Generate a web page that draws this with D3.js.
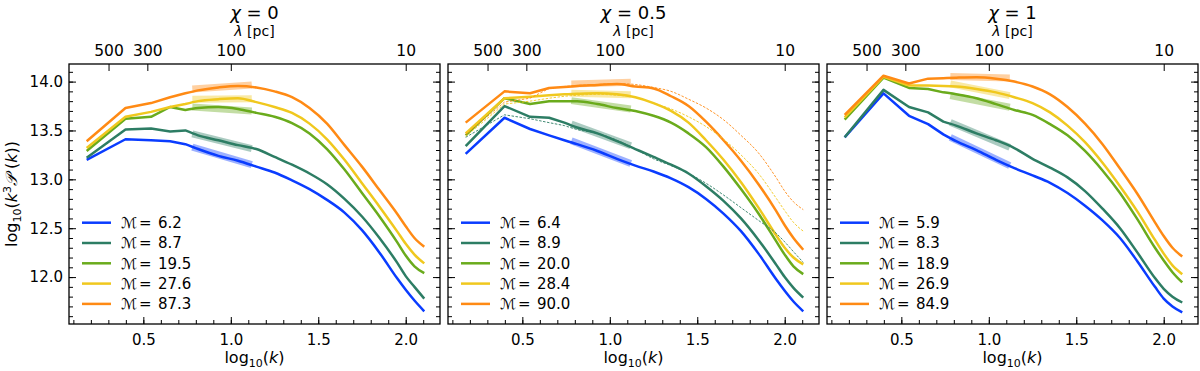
<!DOCTYPE html>
<html>
<head>
<meta charset="utf-8">
<script src="https://cdn.jsdelivr.net/npm/d3@7"></script>
<style>
  body { margin: 0; background: #fff; }
  text { font-family: "DejaVu Sans", sans-serif; fill: #000; }
</style>
</head>
<body>
<svg id="chart" width="1200" height="371"></svg>
<script>
// log10(k) sample positions shared by every curve
const logK = [0.176, 0.398, 0.544, 0.653, 0.740, 0.813, 0.929, 1.041, 1.146, 1.25,
              1.35, 1.45, 1.55, 1.65, 1.75, 1.85, 1.95, 2.0, 2.05, 2.106];

const panelTitles = ["0", "0.5", "1"];
const lambdaTicks = [500, 300, 100, 10];
const xTicks = [0.5, 1.0, 1.5, 2.0];
const yTicks = [12.0, 12.5, 13.0, 13.5, 14.0];

const seriesColors = ["#0a3cff", "#2d7d64", "#6aab1c", "#f0c81e", "#ff8a14"];

const machLabels = [
  ["6.2", "8.7", "19.5", "27.6", "87.3"],
  ["6.4", "8.9", "20.0", "28.4", "90.0"],
  ["5.9", "8.3", "18.9", "26.9", "84.9"]
];

// log10(k^3 P(k)), one row per Mach number (blue, teal, green, yellow, orange)
const chi0Values = [
  [13.20, 13.41, 13.40, 13.39, 13.36, 13.31, 13.24, 13.19, 13.13, 13.07, 12.99, 12.90, 12.79, 12.66, 12.48, 12.25, 11.99, 11.87, 11.76, 11.65],
  [13.22, 13.51, 13.52, 13.49, 13.50, 13.45, 13.40, 13.35, 13.31, 13.23, 13.15, 13.06, 12.95, 12.80, 12.62, 12.40, 12.15, 12.01, 11.90, 11.78],
  [13.29, 13.62, 13.64, 13.74, 13.71, 13.73, 13.74, 13.72, 13.68, 13.64, 13.575, 13.47, 13.31, 13.10, 12.86, 12.62, 12.36, 12.22, 12.11, 12.04],
  [13.32, 13.64, 13.69, 13.74, 13.77, 13.80, 13.82, 13.83, 13.79, 13.74, 13.68, 13.57, 13.41, 13.20, 12.96, 12.72, 12.47, 12.34, 12.23, 12.14],
  [13.39, 13.73, 13.78, 13.84, 13.88, 13.91, 13.94, 13.955, 13.94, 13.90, 13.84, 13.73, 13.57, 13.35, 13.13, 12.89, 12.65, 12.52, 12.40, 12.31]
];
const chi05Values = [
  [13.26, 13.63, 13.515, 13.45, 13.40, 13.36, 13.29, 13.21, 13.14, 13.08, 13.01, 12.92, 12.80, 12.65, 12.47, 12.24, 11.98, 11.86, 11.75, 11.65],
  [13.34, 13.75, 13.64, 13.63, 13.58, 13.53, 13.47, 13.39, 13.31, 13.23, 13.15, 13.06, 12.93, 12.78, 12.60, 12.38, 12.13, 12.00, 11.89, 11.79],
  [13.45, 13.83, 13.77, 13.80, 13.80, 13.80, 13.77, 13.73, 13.70, 13.65, 13.58, 13.47, 13.33, 13.13, 12.90, 12.65, 12.37, 12.23, 12.11, 12.03],
  [13.47, 13.83, 13.845, 13.86, 13.87, 13.875, 13.88, 13.87, 13.84, 13.78, 13.70, 13.58, 13.40, 13.20, 12.97, 12.71, 12.43, 12.30, 12.20, 12.13],
  [13.58, 13.90, 13.88, 13.935, 13.945, 13.955, 13.965, 13.975, 13.95, 13.93, 13.85, 13.75, 13.59, 13.40, 13.19, 12.95, 12.68, 12.53, 12.40, 12.28]
];
const chi1Values = [
  [13.43, 13.88, 13.65, 13.565, 13.46, 13.39, 13.30, 13.20, 13.115, 13.04, 12.965, 12.86, 12.73, 12.58, 12.40, 12.16, 11.90, 11.78, 11.70, 11.64],
  [13.43, 13.915, 13.74, 13.685, 13.59, 13.55, 13.47, 13.40, 13.32, 13.21, 13.12, 13.02, 12.88, 12.70, 12.50, 12.25, 11.99, 11.88, 11.80, 11.74],
  [13.61, 14.04, 13.935, 13.925, 13.89, 13.87, 13.83, 13.77, 13.71, 13.66, 13.565, 13.45, 13.29, 13.09, 12.86, 12.59, 12.30, 12.17, 12.05, 11.945],
  [13.635, 14.05, 13.96, 13.96, 13.955, 13.95, 13.925, 13.89, 13.84, 13.78, 13.685, 13.55, 13.38, 13.17, 12.93, 12.67, 12.38, 12.24, 12.12, 12.03],
  [13.66, 14.06, 13.98, 14.03, 14.035, 14.04, 14.045, 14.03, 14.00, 13.95, 13.87, 13.74, 13.57, 13.36, 13.11, 12.85, 12.56, 12.42, 12.30, 12.21]
];

// thin dashed comparison curves in the middle panel (teal, yellow, orange)
const chi05DashedColors = [1, 3, 4];
const chi05Dashed = [
  [13.43, 13.66, 13.62, 13.58, 13.55, 13.51, 13.47, 13.40, 13.31, 13.21, 13.14, 13.06, 12.96, 12.84, 12.71, 12.58, 12.45, 12.36, 12.26, 12.15],
  [13.44, 13.77, 13.80, 13.83, 13.85, 13.86, 13.87, 13.86, 13.84, 13.78, 13.72, 13.64, 13.54, 13.41, 13.25, 13.06, 12.81, 12.68, 12.56, 12.47],
  [13.46, 13.79, 13.83, 13.93, 13.95, 13.96, 13.97, 13.98, 13.97, 13.94, 13.90, 13.82, 13.73, 13.61, 13.45, 13.27, 13.02, 12.88, 12.77, 12.69]
];

// power-law fit bands: start and end value over bandK
const bandK = [0.78, 1.12];
const chi0Band = [[13.33, 13.15], [13.465, 13.315], [13.74, 13.70], [13.82, 13.825], [13.925, 13.965]];
const chi05Band = [[13.395, 13.163], [13.566, 13.344], [13.805, 13.72], [13.88, 13.866], [13.976, 13.993]];
const chi1Band = [[13.43, 13.14], [13.583, 13.327], [13.857, 13.737], [13.976, 13.857], [14.051, 14.038]];

const panels = [
  { values: chi0Values, band: chi0Band, dashed: null, left: 69 },
  { values: chi05Values, band: chi05Band, dashed: chi05Dashed, left: 448 },
  { values: chi1Values, band: chi1Band, dashed: null, left: 827 }
];

const svg = d3.select("#chart");
const plotTop = 64, pw = 371, ph = 260;

const x = d3.scaleLinear().domain([0.075, 2.196]).range([0, pw]);
const y = d3.scaleLinear().domain([11.52, 14.18]).range([ph, 0]);

// first few bins are joined by straight segments, the rest is smooth
const nLinear = 5;
const lineStraight = d3.line().x((d) => x(d[0])).y((d) => y(d[1]));
const lineSmooth = d3.line().x((d) => x(d[0])).y((d) => y(d[1])).curve(d3.curveMonotoneX);

function curvePath(vals) {
  const pts = logK.map((k, i) => [k, vals[i]]);
  const a = lineStraight(pts.slice(0, nLinear));
  const b = lineSmooth(pts.slice(nLinear - 1));
  return a + "L" + b.slice(1);
}

const xMinor = d3.range(0.1, 2.15, 0.1).map((v) => +v.toFixed(1));
const yMinor = d3.range(11.6, 14.15, 0.1).map((v) => +v.toFixed(1));

function styleAxis(g) {
  g.select(".domain").remove();
  g.selectAll("line").attr("stroke", "#000").attr("stroke-width", 1);
  g.selectAll("text").style("font-size", "15px").style("font-family", "DejaVu Sans");
}

panels.forEach((p, pi) => {
  const g = svg.append("g").attr("transform", `translate(${p.left},${plotTop})`);

  // curves
  p.values.forEach((vals, si) => {
    g.append("path")
      .attr("d", curvePath(vals))
      .attr("fill", "none")
      .attr("stroke", seriesColors[si])
      .attr("stroke-width", 2.5)
      .attr("stroke-linejoin", "round");
  });

  if (p.dashed) {
    p.dashed.forEach((vals, di) => {
      g.append("path")
        .attr("d", curvePath(vals))
        .attr("fill", "none")
        .attr("stroke", seriesColors[chi05DashedColors[di]])
        .attr("stroke-width", 0.9)
        .attr("stroke-dasharray", "2.5,1.5");
    });
  }

  // fit bands
  p.band.forEach((b, si) => {
    g.append("path")
      .datum([[bandK[0], b[0]], [bandK[1], b[1]]])
      .attr("d", lineStraight)
      .attr("fill", "none")
      .attr("stroke", seriesColors[si])
      .attr("stroke-width", 7)
      .attr("stroke-opacity", 0.4);
  });

  // ticks, all pointing inward
  g.append("g").attr("transform", `translate(0,${ph})`)
    .call(d3.axisBottom(x).tickValues(xTicks).tickSize(-7).tickPadding(10).tickFormat(d3.format(".1f")))
    .call(styleAxis);
  g.append("g").attr("transform", `translate(0,${ph})`)
    .call(d3.axisBottom(x).tickValues(xMinor).tickSize(-4).tickFormat(""))
    .call(styleAxis);

  g.append("g")
    .call(d3.axisLeft(y).tickValues(yTicks).tickSize(-7).tickPadding(6)
      .tickFormat(pi === 0 ? d3.format(".1f") : ""))
    .call(styleAxis);
  g.append("g")
    .call(d3.axisLeft(y).tickValues(yMinor).tickSize(-4).tickFormat(""))
    .call(styleAxis);
  g.append("g").attr("transform", `translate(${pw},0)`)
    .call(d3.axisRight(y).tickValues(yTicks).tickSize(-7).tickFormat(""))
    .call(styleAxis);
  g.append("g").attr("transform", `translate(${pw},0)`)
    .call(d3.axisRight(y).tickValues(yMinor).tickSize(-4).tickFormat(""))
    .call(styleAxis);

  // top axis: wavelength in pc
  g.append("g")
    .call(d3.axisTop(x).tickValues(lambdaTicks.map((l) => 3 - Math.log10(l)))
      .tickSize(-7).tickPadding(8).tickFormat((d, i) => lambdaTicks[i]))
    .call(styleAxis)
    .selectAll("text").style("font-size", "15.5px");

  // frame
  g.append("rect").attr("width", pw).attr("height", ph)
    .attr("fill", "none").attr("stroke", "#000").attr("stroke-width", 1.3);

  // title and lambda label
  const title = g.append("text").attr("x", pw / 2).attr("y", -45)
    .attr("text-anchor", "middle").style("font-size", "18px");
  title.append("tspan").style("font-style", "italic").text("χ");
  title.append("tspan").text(" = " + panelTitles[pi]);

  const lt = g.append("text").attr("x", pw / 2).attr("y", -28)
    .attr("text-anchor", "middle").style("font-size", "14px");
  lt.append("tspan").style("font-style", "italic").text("λ");
  lt.append("tspan").text(" [pc]");

  // x label
  const xl = g.append("text").attr("x", pw / 2).attr("y", ph + 39)
    .attr("text-anchor", "middle").style("font-size", "16px");
  xl.append("tspan").text("log");
  xl.append("tspan").attr("dy", 4).style("font-size", "11px").text("10");
  xl.append("tspan").attr("dy", -4).text("(");
  xl.append("tspan").style("font-style", "italic").text("k");
  xl.append("tspan").text(")");

  // legend
  const leg = g.append("g").attr("transform", "translate(13,158.7)");
  machLabels[pi].forEach((m, si) => {
    const row = leg.append("g").attr("transform", `translate(0,${si * 20.3})`);
    row.append("line").attr("x1", 0).attr("x2", 29)
      .attr("stroke", seriesColors[si]).attr("stroke-width", 2.5);
    row.append("text").attr("x", 39).attr("dy", "0.35em")
      .style("font-size", "15px").style("font-style", "italic").text("ℳ");
    row.append("text").attr("x", 57).attr("dy", "0.35em")
      .style("font-size", "15px").text("=");
    row.append("text").attr("x", 76).attr("dy", "0.35em")
      .style("font-size", "15px").text(m);
  });
});

// y label
const yl = svg.append("text")
  .attr("transform", `translate(17,${plotTop + ph / 2}) rotate(-90)`)
  .attr("text-anchor", "middle").style("font-size", "16px");
yl.append("tspan").text("log");
yl.append("tspan").attr("dy", 4).style("font-size", "11px").text("10");
yl.append("tspan").attr("dy", -4).text("(");
yl.append("tspan").style("font-style", "italic").text("k");
yl.append("tspan").attr("dy", -6).style("font-size", "11px").text("3");
yl.append("tspan").attr("dy", 6).style("font-style", "italic").text("𝒫");
yl.append("tspan").text(" (");
yl.append("tspan").style("font-style", "italic").text("k");
yl.append("tspan").text("))");
</script>
</body>
</html>
